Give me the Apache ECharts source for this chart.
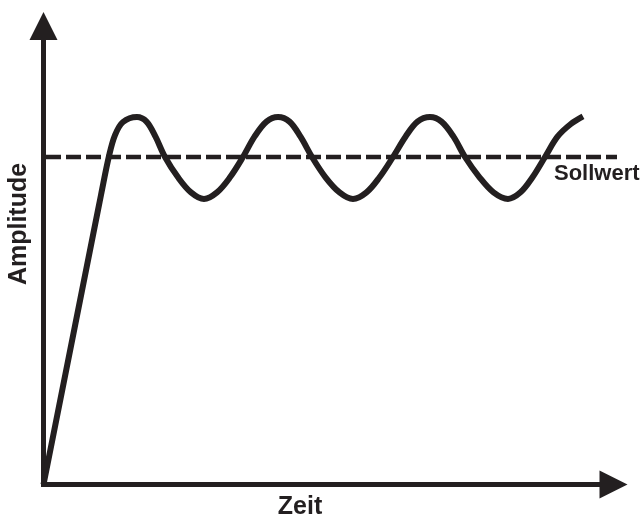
<!DOCTYPE html>
<html>
<head>
<meta charset="utf-8">
<script src="https://cdn.jsdelivr.net/npm/echarts@6/dist/echarts.min.js"></script>
<style>
  html, body { margin: 0; padding: 0; background: #ffffff; }
  #chart { width: 643px; height: 520px; }
</style>
</head>
<body>
<div id="chart"></div>
<script>
// Time (arbitrary units) and amplitude of the controlled variable
const zeit = [
  0, 5.15, 5.75, 6.55, 7.15, 7.95, 9.35,
  10.3, 11.2, 12.15, 13.45, 14.75, 16.05,
  17.35, 18.65, 19.95, 21.1, 22.3, 23.45,
  24.6, 25.7, 26.85, 28.2, 29.6, 30.95,
  32.3, 33.6, 34.95, 36.2, 37.4, 38.65,
  39.8, 41.0, 42.15, 43.6, 45.0, 46.45,
  47.7, 48.9, 50.15, 51.4, 52.7, 53.95
];
const amplitude = [
  0, 0.792, 0.884, 1.003, 1.067, 1.107, 1.122,
  1.108, 1.062, 1.0, 0.938, 0.892, 0.872,
  0.892, 0.938, 1.0, 1.062, 1.108, 1.122,
  1.108, 1.062, 1.0, 0.938, 0.892, 0.872,
  0.892, 0.938, 1.0, 1.062, 1.108, 1.122,
  1.108, 1.062, 1.0, 0.938, 0.892, 0.872,
  0.892, 0.938, 1.0, 1.062, 1.100, 1.124
];

// Setpoint (Sollwert) level and its horizontal extent
const sollwert = 1.0;
const sollwertZeit = [0.25, 57.7];

// Axis ranges
const xRange = [0, 57];
const yRange = [0, 1.4];

// Labels
const xName = 'Zeit';
const yName = 'Amplitude';
const sollLabel = 'Sollwert';

const ink = '#231f20';
const font = '"Liberation Sans", Arial, Helvetica, sans-serif';

const curveData = zeit.map((t, i) => [t, amplitude[i]]);
const sollData = sollwertZeit.map(t => [t, sollwert]);

const chart = echarts.init(document.getElementById('chart'), null, { renderer: 'canvas' });

const axisCommon = {
  type: 'value',
  axisLine: {
    show: true,
    symbol: ['none', 'triangle'],
    symbolSize: [28, 28],
    lineStyle: { color: ink, width: 5, cap: 'square' }
  },
  axisTick: { show: false },
  axisLabel: { show: false },
  splitLine: { show: false }
};

chart.setOption({
  animation: false,
  backgroundColor: '#ffffff',
  grid: { left: 43.5, right: 29.5, top: 26, bottom: 35.5 },
  xAxis: Object.assign({}, axisCommon, { min: xRange[0], max: xRange[1] }),
  yAxis: Object.assign({}, axisCommon, { min: yRange[0], max: yRange[1] }),
  series: [
    {
      type: 'line',
      data: sollData,
      showSymbol: false,
      clip: false,
      lineStyle: { color: ink, width: 4.5, type: [15, 5] },
      z: 2
    },
    {
      type: 'line',
      data: curveData,
      smooth: 0.35,
      showSymbol: false,
      clip: false,
      lineStyle: { color: ink, width: 6 },
      z: 3
    }
  ],
  graphic: [
    {
      type: 'text',
      x: 19, y: 224,
      rotation: Math.PI / 2,
      style: {
        text: yName, fill: ink,
        font: 'bold 25px ' + font,
        textAlign: 'center', textVerticalAlign: 'middle'
      }
    },
    {
      type: 'text',
      x: 300, y: 507,
      style: {
        text: xName, fill: ink,
        font: 'bold 25px ' + font,
        textAlign: 'center', textVerticalAlign: 'middle'
      }
    },
    {
      type: 'text',
      x: 554, y: 174,
      style: {
        text: sollLabel, fill: ink,
        font: 'bold 22px ' + font,
        textAlign: 'left', textVerticalAlign: 'middle'
      }
    }
  ]
});
</script>
</body>
</html>
